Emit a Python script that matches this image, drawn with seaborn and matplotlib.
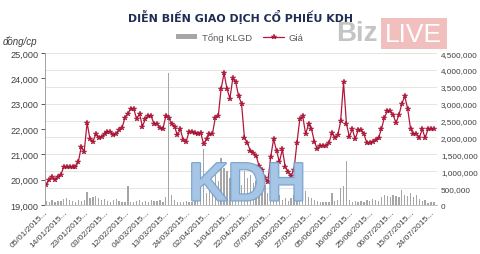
import numpy as np
import pandas as pd
import matplotlib
matplotlib.use("Agg")
import matplotlib.pyplot as plt
import seaborn as sns
from matplotlib import patheffects as pe
from matplotlib.lines import Line2D
from matplotlib.patches import Patch, Rectangle
from matplotlib.ticker import FuncFormatter, MultipleLocator

# ---- data ----
price = [
    19800, 20000, 20100, 20000, 20100, 20200, 20500, 20500, 20500, 20500,
    20500, 20700, 21300, 21100, 22250, 21600, 21500, 21800, 21650, 21700,
    21800, 21900, 21900, 21750, 21800, 21950, 22050, 22450, 22600, 22800,
    22800, 22400, 22600, 22100, 22400, 22500, 22500, 22200, 22200, 22050,
    22000, 22500, 22450, 22200, 22100, 21750, 22000, 21550, 21500, 21900,
    21900, 21850, 21800, 21850, 21400, 21600, 21800, 21800, 22450, 22500,
    23600, 24200, 23600, 23200, 24000, 23850, 23300, 23000, 21650, 21450,
    21150, 21050, 20950, 20550, 20400, 20050, 19900, 20900, 21600, 21150,
    20700, 21200, 20500, 20300, 20150, 20400, 21450, 22400, 22500, 21800,
    22200, 22000, 21500, 21200, 21350, 21350, 21350, 21450, 21850, 21650,
    21750, 22300, 23850, 22200, 21700, 22000, 21600, 21950, 21950, 21800,
    21450, 21450, 21500, 21550, 21650, 22000, 22450, 22700, 22700, 22550,
    22250, 22550, 23000, 23300, 22800, 22000, 21800, 21800, 21650, 22000,
    21650, 22000, 22000, 22000,
]
volume = [
    120000, 90000, 150000, 100000, 130000, 110000, 180000, 200000, 160000, 120000,
    100000, 140000, 110000, 150000, 380000, 200000, 250000, 260000, 200000, 150000,
    180000, 120000, 100000, 140000, 170000, 110000, 90000, 100000, 570000, 90000,
    80000, 110000, 140000, 100000, 130000, 90000, 150000, 110000, 120000, 140000,
    80000, 250000, 3900000, 300000, 150000, 100000, 80000, 90000, 120000, 100000,
    90000, 110000, 130000, 150000, 1650000, 350000, 450000, 400000, 900000, 700000,
    1400000, 1100000, 1000000, 800000, 700000, 1200000, 900000, 600000, 1000000, 800000,
    900000, 650000, 700000, 500000, 400000, 600000, 350000, 300000, 200000, 250000,
    300000, 150000, 200000, 120000, 200000, 300000, 400000, 450000, 350000, 420000,
    250000, 200000, 150000, 120000, 100000, 90000, 80000, 100000, 350000, 120000,
    150000, 500000, 550000, 1300000, 150000, 100000, 120000, 90000, 110000, 100000,
    150000, 120000, 180000, 150000, 120000, 250000, 300000, 280000, 250000, 300000,
    270000, 250000, 450000, 300000, 280000, 350000, 250000, 300000, 180000, 120000,
    150000, 60000, 100000, 80000,
]
tick_labels = [
    "05/01/2015...", "14/01/2015...", "23/01/2015...", "03/02/2015...",
    "12/02/2015...", "04/03/2015...", "13/03/2015...", "24/03/2015...",
    "02/04/2015...", "13/04/2015...", "22/04/2015...", "07/05/2015...",
    "18/05/2015...", "27/05/2015...", "05/06/2015...", "16/06/2015...",
    "25/06/2015...", "06/07/2015...", "15/07/2015...", "24/07/2015...",
]
tick_step = 7
title = "DIỄN BIẾN GIAO DỊCH CỔ PHIẾU KDH"
series_names = ["Tổng KLGD", "Giá"]

sns.set_theme(style="white")
plt.rcParams["font.family"] = ["Liberation Sans", "DejaVu Sans"]

df = pd.DataFrame({"idx": np.arange(len(price)), "price": price, "vol": volume})

fig = plt.figure(figsize=(4.8, 2.55), dpi=100)
fig.patch.set_facecolor("white")
ax = fig.add_axes([0.094, 0.192, 0.816, 0.596])
ax2 = ax.twinx()

bar_col = "#a6a6a6"
line_col = "#b3173c"

sns.barplot(data=df, x="idx", y="vol", native_scale=True, width=0.45,
            color=bar_col, saturation=1, linewidth=0, ax=ax2)
sns.lineplot(data=df, x="idx", y="price", ax=ax, color=line_col, lw=0.9,
             marker="*", markersize=3.8, markeredgewidth=0.3,
             markeredgecolor="#8a0f2a", markerfacecolor="#c4163f")

ax.set_zorder(ax2.get_zorder() + 1)
ax.patch.set_visible(False)

ax.set_ylim(19000, 25000)
ax2.set_ylim(0, 4500000)
ax.set_xlim(-0.4, 134)

ax.yaxis.set_major_locator(MultipleLocator(1000))
ax.yaxis.set_major_formatter(FuncFormatter(lambda v, p: f"{int(v):,}"))
ax2.yaxis.set_major_locator(MultipleLocator(500000))
ax2.yaxis.set_major_formatter(FuncFormatter(lambda v, p: f"{int(v):,}"))

ax2.grid(axis="y", color="#e6e6de", lw=0.7)
ax2.grid(axis="x", visible=False)
ax.grid(False)
ax2.set_axisbelow(True)

ax.set_xticks(range(0, tick_step * len(tick_labels), tick_step))
ax.set_xticklabels(tick_labels, rotation=45, ha="right", va="center",
                   rotation_mode="anchor", fontsize=6.0, color="#404040")

ax.tick_params(axis="y", labelsize=6.6, colors="#404040", length=3, width=0.6,
               pad=2, left=True, direction="out")
ax.tick_params(axis="x", length=0, pad=4, bottom=True)
ax2.tick_params(axis="y", labelsize=5.9, colors="#404040", length=0, pad=3)
ax2.tick_params(axis="x", bottom=False, top=False, labelbottom=False, labeltop=False)
ax.tick_params(axis="x", labelbottom=True)

for s in ["top", "right"]:
    ax.spines[s].set_visible(False)
ax.spines["left"].set_color("#a0a0a0")
ax.spines["left"].set_linewidth(0.7)
ax.spines["bottom"].set_color("#c0c0c0")
ax.spines["bottom"].set_linewidth(0.7)
for s in ax2.spines.values():
    s.set_visible(False)

ax.set_xlabel("")
ax.set_ylabel("")
ax2.set_xlabel("")
ax2.set_ylabel("")

# title and unit
fig.text(0.5, 0.935, title, ha="center", va="center", fontsize=7.9,
         fontweight="bold", color="#1f2d55", family=["DejaVu Sans"])
fig.text(0.005, 0.838, "đồng/cp", ha="left", va="center", fontsize=7,
         style="italic", color="#404040")

# legend
handles = [Patch(facecolor=bar_col, edgecolor="none"),
           Line2D([0], [0], color=line_col, lw=0.9, marker="*", markersize=3.8,
                  markerfacecolor="#c4163f", markeredgecolor="#8a0f2a", markeredgewidth=0.3)]
fig.legend(handles, series_names, loc="center", bbox_to_anchor=(0.5, 0.85),
           ncol=2, frameon=False, fontsize=6.8, handlelength=2.2, handleheight=0.5,
           columnspacing=1.2, handletextpad=0.5, labelcolor="#595959")

# BizLIVE logo
fig.text(0.700, 0.865, "Biz", ha="left", va="center", fontsize=20,
         color="#c4c4c4", fontweight="bold")
fig.patches.append(Rectangle((0.793, 0.805), 0.139, 0.12, transform=fig.transFigure,
                             facecolor="#eeaaaa", edgecolor="none", alpha=0.75))
fig.text(0.862, 0.862, "LIVE", ha="center", va="center", fontsize=19,
         color="white")

# KDH watermark
fig.text(0.515, 0.265, "KDH", ha="center", va="center", fontsize=39,
         fontweight="bold", color="#a7c6e6", alpha=0.92,
         path_effects=[pe.withStroke(linewidth=1.6, foreground="#6f9ccc")], zorder=10)

fig.savefig("out.png", dpi=100, facecolor="white")
